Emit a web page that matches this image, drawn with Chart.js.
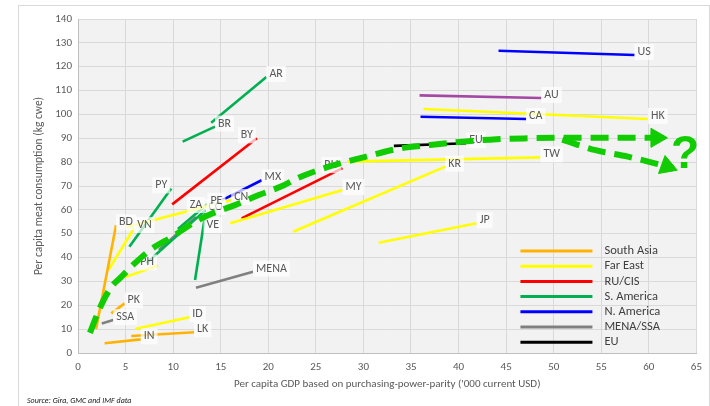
<!DOCTYPE html>
<html>
<head>
<meta charset="utf-8">
<script src="https://cdn.jsdelivr.net/npm/chart.js@4.4.1/dist/chart.umd.min.js"></script>
<style>
  html, body { margin: 0; padding: 0; background: #fff; }
  canvas { display: block; }
</style>
</head>
<body>
<canvas id="meatChart" width="710" height="406"></canvas>
<script>
// Meat consumption vs GDP per capita (two points per country, start -> latest)

const countries = ['IN', 'LK', 'PK', 'BD', 'SSA', 'ID', 'PH', 'VN', 'CN', 'MY', 'KR', 'TW', 'JP', 'HK',
    'BY', 'RU', 'PY', 'CO', 'PE', 'VE', 'BR', 'AR', 'MX', 'CA', 'US', 'ZA', 'MENA', 'EU', 'AU'];
const regions = ['South Asia', 'South Asia', 'South Asia', 'South Asia', 'MENA/SSA', 'Far East', 'Far East',
    'Far East', 'Far East', 'Far East', 'Far East', 'Far East', 'Far East', 'Far East',
    'RU/CIS', 'RU/CIS', 'S. America', 'S. America', 'S. America', 'S. America', 'S. America', 'S. America',
    'N. America', 'N. America', 'N. America', 'MENA/SSA', 'MENA/SSA', 'EU', 'Oceania'];
const gdpStart  = [2.8, 5.6, 3.5, 1.9, 2.5, 6.0, 4.9, 3.2, 5.1, 16.0, 22.6, 28.3, 31.6, 36.3,
    9.9, 17.2, 5.4, 7.2, 10.5, 12.3, 11.0, 14.0, 15.1, 36.0, 44.2, 8.5, 12.4, 33.2, 35.9];
const meatStart = [4.1, 7.1, 16.6, 10.1, 12.4, 10.1, 31.7, 34.8, 52.8, 54.4, 50.8, 80.2, 46.2, 102.3,
    62.3, 56.4, 44.5, 37.7, 52.0, 30.6, 88.6, 96.5, 64.0, 99.0, 126.7, 43.2, 27.4, 86.8, 108.0];
const gdpEnd    = [6.6, 12.2, 4.9, 4.0, 3.7, 11.7, 8.4, 5.9, 16.1, 27.8, 38.6, 48.6, 41.9, 59.9,
    18.8, 27.8, 9.8, 13.4, 13.6, 13.4, 14.4, 19.8, 19.3, 47.1, 58.5, 12.4, 18.4, 40.8, 48.7];
const meatEnd   = [5.7, 8.7, 20.8, 53.5, 13.8, 15.0, 36.7, 52.4, 64.1, 68.3, 78.1, 82.0, 54.4, 98.1,
    90.0, 77.5, 69.0, 59.9, 62.5, 58.7, 94.9, 115.7, 72.4, 98.1, 124.9, 57.0, 34.1, 87.9, 106.9];

// hand-drawn trend arrow
const trendGdp  = [1.25, 2.3, 3.5, 4.55, 6.1, 7.85, 9.9, 12.0, 14.1, 16.5, 19.0, 21.7, 23.1, 26.6,
    30.1, 33.5, 37.0, 40.5, 44.0, 47.4, 50.9, 54.4, 57.8, 60.8];
const trendMeat = [8.4, 18.9, 27.7, 31.9, 38.1, 43.9, 48.7, 54.3, 58.5, 62.0, 66.2, 70.4, 73.3, 78.4,
    82.1, 85.5, 87.2, 88.6, 89.6, 90.0, 90.2, 90.2, 90.2, 90.2];
const declineGdp  = [50.9, 54.4, 57.8, 61.9];
const declineMeat = [89.4, 85.0, 82.3, 78.2];

const legendNames = ['South Asia', 'Far East', 'RU/CIS', 'S. America', 'N. America', 'MENA/SSA', 'EU'];

const xTickStep = 5, xMax = 65;
const yTickStep = 10, yMax = 140;

const regionColors = {
    'South Asia': '#FFB300',
    'Far East': '#FFFF00',
    'RU/CIS': '#FF0000',
    'S. America': '#00B050',
    'N. America': '#0000FF',
    'MENA/SSA': '#808080',
    'EU': '#000000',
    'Oceania': '#A349A4'
};
const trendColor = '#11CC00';
// labels that sit on the other side of their line end
const labelSide = { BY: 'left', PY: 'left', RU: 'left', PH: 'left', ZA: 'above', VE: 'below' };

const FONT = "'Liberation Sans Narrow', 'Carlito', 'Liberation Sans', sans-serif";
Chart.defaults.font.family = FONT;
Chart.defaults.color = '#595959';

const arrowPoints = (n, rot) => ({
    pointRadius: Array.from({ length: n }, (_, i) => (i === n - 1 ? 11 : 0)),
    pointRotation: Array.from({ length: n }, (_, i) => (i === n - 1 ? rot : 0)),
    pointStyle: 'triangle',
    pointBackgroundColor: trendColor,
    pointBorderColor: trendColor,
    pointBorderWidth: 1
});

const datasets = [
    {
        label: 'trend',
        data: trendGdp.map((x, i) => ({ x, y: trendMeat[i] })),
        showLine: true,
        borderColor: trendColor,
        borderWidth: 6,
        borderDash: [18, 9],
        cubicInterpolationMode: 'monotone',
        ...arrowPoints(trendGdp.length, 90)
    },
    {
        label: 'decline',
        data: declineGdp.map((x, i) => ({ x, y: declineMeat[i] })),
        showLine: true,
        borderColor: trendColor,
        borderWidth: 6,
        borderDash: [18, 9],
        cubicInterpolationMode: 'monotone',
        ...arrowPoints(declineGdp.length, 110)
    },
    ...countries.map((c, i) => ({
        label: c,
        data: [{ x: gdpStart[i], y: meatStart[i] }, { x: gdpEnd[i], y: meatEnd[i] }],
        showLine: true,
        borderColor: regionColors[regions[i]],
        borderWidth: 2.6,
        pointRadius: 0
    }))
];
const FIRST_COUNTRY = 2;

// Plot background and outer frame
const backgroundPlugin = {
    id: 'background',
    beforeDraw(chart) {
        const { ctx, chartArea: a } = chart;
        ctx.save();
        ctx.fillStyle = '#fff';
        ctx.fillRect(0, 0, chart.width, chart.height);
        ctx.strokeStyle = '#d9d9d9';
        ctx.lineWidth = 1;
        ctx.strokeRect(18.5, 5.5, chart.width - 19, chart.height + 10);
        ctx.fillStyle = '#f2f2f2';
        ctx.fillRect(a.left, a.top, a.right - a.left, a.bottom - a.top);
        ctx.restore();
    }
};

// Country labels drawn over the country lines, under the trend arrow
const labelPlugin = {
    id: 'countryLabels',
    afterDatasetDraw(chart, args) {
        if (args.index !== FIRST_COUNTRY) return;
        const ctx = chart.ctx;
        ctx.save();
        ctx.font = '12px ' + FONT;
        ctx.textBaseline = 'middle';
        countries.forEach((c, i) => {
            const pt = chart.getDatasetMeta(i + FIRST_COUNTRY).data[1];
            const w = ctx.measureText(c).width;
            let x = pt.x + 3, y = pt.y - 3;
            const side = labelSide[c];
            if (side === 'left') x = pt.x - w - 4;
            if (side === 'above') { x = pt.x - w / 2; y = pt.y - 12; }
            if (side === 'below') { x = pt.x + 1; y = pt.y + 12; }
            ctx.fillStyle = 'rgba(255,255,255,0.7)';
            ctx.fillRect(x - 3, y - 8, w + 6, 16);
            ctx.fillStyle = '#595959';
            ctx.fillText(c, x, y);
        });
        ctx.restore();
    }
};

// Legend, question mark and source note
const overlayPlugin = {
    id: 'overlay',
    afterDraw(chart) {
        const { ctx, chartArea: a } = chart;
        ctx.save();
        ctx.textBaseline = 'middle';
        ctx.font = '12.5px ' + FONT;
        legendNames.forEach((name, i) => {
            const y = a.bottom - 102 + i * 15.2;
            ctx.strokeStyle = regionColors[name];
            ctx.lineWidth = 3;
            ctx.beginPath();
            ctx.moveTo(a.right - 176, y);
            ctx.lineTo(a.right - 104, y);
            ctx.stroke();
            ctx.fillStyle = '#404040';
            ctx.fillText(name, a.right - 92, y);
        });

        const q = chart.scales.x.getPixelForValue(63.8);
        const qy = chart.scales.y.getPixelForValue(83.0);
        ctx.font = "bold 46px 'Liberation Sans', sans-serif";
        ctx.fillStyle = trendColor;
        ctx.textAlign = 'center';
        ctx.fillText('?', q, qy);

        ctx.textAlign = 'left';
        ctx.font = 'italic 8px ' + FONT;
        ctx.fillStyle = '#1a1a1a';
        ctx.fillText('Source: Gira, GMC and IMF data', 27, 401);
        ctx.restore();
    }
};

new Chart(document.getElementById('meatChart'), {
    type: 'scatter',
    data: { datasets },
    options: {
        responsive: false,
        animation: false,
        devicePixelRatio: 1,
        layout: { padding: { left: 18, top: 19, right: 7, bottom: 0 } },
        plugins: { legend: { display: false }, tooltip: { enabled: false } },
        scales: {
            x: {
                min: 0, max: xMax,
                ticks: { stepSize: xTickStep, padding: 8, font: { size: 11 }, color: '#595959' },
                grid: { color: '#d9d9d9', drawTicks: false },
                border: { color: '#bfbfbf' },
                title: {
                    display: true,
                    text: "Per capita GDP based on purchasing-power-parity ('000 current USD)",
                    font: { size: 11 }, color: '#595959',
                    padding: { top: 0, bottom: 15 }
                },
                afterFit(scale) { scale.height = 53; }
            },
            y: {
                min: 0, max: yMax,
                ticks: { stepSize: yTickStep, padding: 6, font: { size: 11 }, color: '#595959' },
                grid: { color: '#d9d9d9', drawTicks: false },
                border: { color: '#bfbfbf' },
                title: {
                    display: true,
                    text: 'Per capita meat consumption (kg cwe)',
                    font: { size: 11.5 }, color: '#595959',
                    padding: { top: 14, bottom: 0 }
                },
                afterFit(scale) { scale.width = 60; }
            }
        }
    },
    plugins: [backgroundPlugin, labelPlugin, overlayPlugin]
});
</script>
</body>
</html>
